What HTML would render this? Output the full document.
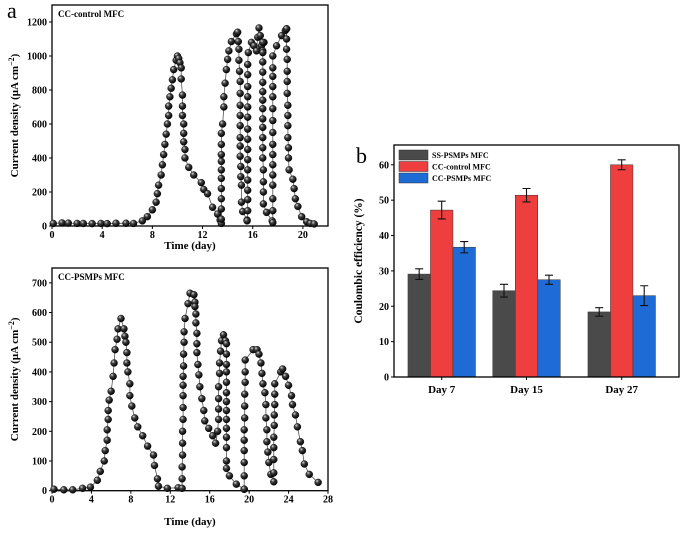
<!DOCTYPE html>
<html><head><meta charset="utf-8"><style>
html,body{margin:0;padding:0;background:#fff;}
svg{display:block;font-family:"Liberation Serif",serif;}
</style></head><body>
<svg id="fig" width="685" height="533" viewBox="0 0 685 533">
<defs>
<radialGradient id="ball" cx="0.35" cy="0.3" r="0.7">
<stop offset="0" stop-color="#ddd"/><stop offset="0.35" stop-color="#444"/><stop offset="1" stop-color="#000"/>
</radialGradient>
</defs>
</svg>
<script>
// ---- Panel a top: CC-control MFC
const topDays=[0.1,0.8,1.3,2,2.5,3.2,3.9,4.4,5.1,5.9,6.5,
7.2,7.6,8.0,8.3,8.4,8.5,8.7,8.8,8.9,9.0,9.1,9.2,9.3,9.3,9.4,9.5,9.6,9.7,9.9,10.0,10.1,10.2,10.3,10.3,10.4,10.4,10.4,10.5,10.5,10.5,10.6,10.6,10.9,11.3,11.9,12.1,12.4,12.8,13.2,13.4,
13.5,13.5,13.5,13.5,13.5,13.5,13.5,13.5,13.5,13.5,13.5,13.6,13.7,13.7,13.8,13.9,14.0,14.1,14.3,14.7,
14.8,14.85,14.9,14.9,14.95,15,15,15,15,15,15,15,15,15.05,15.05,15.1,15.1,15.2,
15.55,15.55,15.6,15.6,15.6,15.6,15.6,15.6,15.6,15.6,15.6,15.6,15.6,15.6,15.6,15.6,15.6,15.65,
15.9,16.1,16.3,16.4,16.5,16.6,16.7,16.8,16.9,
16.8,16.8,16.8,16.8,16.8,16.8,16.8,16.8,16.8,16.8,16.8,16.8,16.8,16.85,16.85,16.85,16.85,17.1,
17.55,17.6,17.6,17.6,17.6,17.6,17.6,17.6,17.6,17.6,17.6,17.6,17.6,17.6,17.6,17.6,17.6,17.9,18.3,18.6,18.7,
18.7,18.7,18.7,18.75,18.75,18.75,18.75,18.8,18.8,18.8,18.8,18.85,18.85,18.9,19.2,19.3,19.4,19.6,19.9,20.3,20.6,20.9];
const topVals=[15,18,17,15,15,14,15,14,16,16,15,
30,55,95,140,190,240,300,360,420,480,540,600,650,705,760,810,860,920,975,1000,985,960,930,865,770,705,650,600,545,495,450,400,345,300,255,215,190,110,70,35,15,
40,100,160,220,280,330,380,420,480,545,600,700,760,840,920,980,1030,1085,1130,1140,
1085,1040,975,910,850,780,710,650,590,520,470,410,350,290,240,140,85,35,
30,90,155,210,270,330,390,450,510,570,640,700,760,820,890,950,1020,1080,
1060,1030,1110,1165,1120,1060,1030,1080,1080,
1020,965,905,845,790,740,690,630,580,520,460,400,330,260,200,130,80,30,
20,90,160,240,300,360,420,480,550,620,690,760,820,880,930,1000,1060,1120,1150,1160,1160,
1100,1040,980,910,850,780,710,650,590,520,460,400,330,275,220,160,115,55,25,15,12,12];
const topXTicks=[0,4,8,12,16,20];
const topYTicks=[0,200,400,600,800,1000,1200];

// ---- Panel a bottom: CC-PSMPs MFC
const botDays=[0.2,1.2,2.1,3.1,3.9,4.6,4.9,5.3,5.4,5.6,5.6,5.7,5.7,5.8,6.0,6.2,6.3,6.4,6.6,6.7,7.0,7.3,7.4,7.5,7.6,7.6,7.7,7.9,7.9,8.1,8.4,8.7,9.2,9.7,10.3,10.4,10.7,10.8,11.7,12.8,13.2,
13.2,13.2,13.25,13.25,13.25,13.3,13.3,13.3,13.3,13.3,13.35,13.35,13.4,13.4,13.5,13.8,14.0,14.4,14.5,14.5,14.6,14.6,14.7,14.7,14.7,14.8,14.9,15.0,15.2,15.4,15.5,15.9,16.3,16.6,16.8,16.9,16.9,16.9,16.9,17.0,17.0,17.1,17.2,17.4,17.6,17.7,
17.7,17.7,17.7,17.7,17.7,17.7,17.7,17.7,17.7,17.7,17.7,17.7,17.7,18.0,18.7,19.5,
19.5,19.5,19.5,19.5,19.5,19.5,19.55,19.55,19.55,19.6,19.6,19.6,20.4,20.8,21.0,21.2,21.3,21.4,21.6,21.7,21.7,21.8,21.8,21.9,22.0,22.2,
22.5,22.5,22.5,22.5,22.5,22.55,22.55,22.6,22.6,22.6,23.2,23.4,23.7,24.0,24.3,24.4,24.7,24.9,25.2,25.4,25.6,26.1,27.0];
const botVals=[5,3,3,8,12,35,65,100,135,170,205,240,270,305,335,385,430,475,510,545,580,545,520,500,465,430,400,360,320,285,245,215,185,150,120,85,40,15,8,10,8,
40,80,120,160,200,240,280,320,355,385,420,460,500,535,580,630,665,660,635,620,595,565,530,495,465,425,390,350,310,270,235,210,185,160,200,240,275,310,350,395,430,470,505,525,505,495,
460,425,400,365,330,300,270,240,210,180,145,100,75,50,22,5,
5,50,95,135,170,205,245,285,325,365,400,440,475,475,460,430,395,360,330,290,245,205,165,130,95,55,30,
60,105,145,180,220,255,290,325,360,400,410,385,355,320,290,255,215,165,135,90,55,28,5];
const botXTicks=[0,4,8,12,16,20,24,28];
const botYTicks=[0,100,200,300,400,500,600,700];

// ---- Panel b: Coulombic efficiency
const barCats=["Day 7","Day 15","Day 27"];
const seriesNames=["SS-PSMPs MFC","CC-control MFC","CC-PSMPs MFC"];
const ssVals=[29.1,24.4,18.4];
const ssErr=[1.5,1.8,1.2];
const ccVals=[47.2,51.4,60.0];
const ccErr=[2.5,1.9,1.4];
const psVals=[36.7,27.5,23.0];
const psErr=[1.6,1.3,2.8];
const barYTicks=[0,10,20,30,40,50,60];

const NS="http://www.w3.org/2000/svg";
const svg=document.getElementById('fig');
function mk(tag,attrs,parent){const e=document.createElementNS(NS,tag);for(const k in attrs)e.setAttribute(k,attrs[k]);(parent||svg).appendChild(e);return e;}
function txt(s,attrs,parent){const e=mk('text',attrs,parent);e.textContent=s;return e;}

function linePanel(name,days,vals,xmax,ymax,xt,yt,box,label,xtitleY){
  const g=mk('g',{});
  
  
  const X=d=>box.l+d/xmax*(box.r-box.l);
  const Y=v=>box.b-v/ymax*(box.b-box.t);
  const fr=mk('rect',{x:box.l,y:box.t,width:box.r-box.l,height:box.b-box.t,fill:'none',stroke:'#000','stroke-width':1.3},g);
  
  
  xt.forEach(t=>{mk('line',{x1:X(t),x2:X(t),y1:box.b,y2:box.b+3,stroke:'#000'},g);
    const l=txt(t,{x:X(t),y:box.b+12,'text-anchor':'middle','font-size':10,'font-weight':'bold'},g);
    
    });
  yt.forEach(t=>{mk('line',{x1:box.l-3,x2:box.l,y1:Y(t),y2:Y(t),stroke:'#000'},g);
    const l=txt(t,{x:box.l-5,y:Y(t)+3.5,'text-anchor':'end','font-size':10,'font-weight':'bold'},g);
    
    });
  const pts=days.map((d,i)=>X(d).toFixed(1)+','+Y(vals[i]).toFixed(1)).join(' ');
  const pl=mk('polyline',{points:pts,fill:'none',stroke:'#555','stroke-width':0.8},g);
  
  
  days.forEach((d,i)=>{const c=mk('circle',{cx:X(d),cy:Y(vals[i]),r:3.5,fill:'url(#ball)',stroke:'#000','stroke-width':0.4},g);
    
    });
  const lb=txt(label,{x:box.l+6,y:box.t+12,'font-size':9,'font-weight':'bold'},g);
  
  
  const xtl=txt('Time (day)',{x:(box.l+box.r)/2,y:xtitleY,'text-anchor':'middle','font-size':11,'font-weight':'bold'},g);
  
  
  const cy=(box.t+box.b)/2;
  const yl=mk('text',{x:0,y:0,transform:`translate(18,${cy}) rotate(-90)`,'text-anchor':'middle','font-size':11,'font-weight':'bold'},g);
  yl.innerHTML='Current density (μA cm<tspan dy="-4" font-size="8">−2</tspan><tspan dy="4">)</tspan>';
  
  
}
linePanel('chart-cc-control',topDays,topVals,22,1300,topXTicks,topYTicks,{l:52,r:328,t:5,b:226},'CC-control MFC',249);
linePanel('chart-cc-psmps',botDays,botVals,28,750,botXTicks,botYTicks,{l:52,r:328,t:268,b:490.7},'CC-PSMPs MFC',525);

const pa=txt('a',{x:7,y:18,'font-size':22},svg);


const pb=txt('b',{x:356,y:163,'font-size':22},svg);



// Bar chart
(function(){
  const box={l:394,r:679,t:145,b:377};const ymax=65.6;
  const g=mk('g',{});
  
  
  const Y=v=>box.b-v/ymax*(box.b-box.t);
  const centers=[441.7,526.5,621.7];
  const bw=22.5;
  const colors=['#4a4a4a','#ee3e3e','#1f6bd6'];
  const vals=[ssVals,ccVals,psVals],errs=[ssErr,ccErr,psErr];
  barCats.forEach((c,i)=>{
    vals.forEach((sv,s)=>{
      const x=centers[i]+(s-1)*bw-bw/2;
      const r=mk('rect',{x:x,y:Y(sv[i]),width:bw,height:box.b-Y(sv[i]),fill:colors[s],stroke:'#333','stroke-width':0.5},g);
      
      
      const cx=x+bw/2,hi=Y(sv[i]+errs[s][i]),lo=Y(sv[i]-errs[s][i]);
      const e=mk('path',{d:`M${cx-4},${hi}H${cx+4}M${cx},${hi}V${lo}M${cx-4},${lo}H${cx+4}`,stroke:'#111','stroke-width':1.1,fill:'none'},g);
      
      
    });
    mk('line',{x1:centers[i],x2:centers[i],y1:box.b,y2:box.b+3,stroke:'#000'},g);
    const l=txt(c,{x:centers[i],y:box.b+16,'text-anchor':'middle','font-size':11,'font-weight':'bold'},g);
    
    
  });
  const fr=mk('rect',{x:box.l,y:box.t,width:box.r-box.l,height:box.b-box.t,fill:'none',stroke:'#000','stroke-width':1.3},g);
  
  
  barYTicks.forEach(t=>{mk('line',{x1:box.l-3,x2:box.l,y1:Y(t),y2:Y(t),stroke:'#000'},g);
    const l=txt(t,{x:box.l-5,y:Y(t)+3.5,'text-anchor':'end','font-size':10,'font-weight':'bold'},g);
    
    });
  const yl=txt('Coulombic efficiency (%)',{transform:`translate(362,${(box.t+box.b)/2}) rotate(-90)`,'text-anchor':'middle','font-size':11.5,'font-weight':'bold'},g);
  
  
  seriesNames.forEach((n,s)=>{
    const y=150+s*11.5;
    const le=mk('g',{},g);
    
    
    mk('rect',{x:399,y:y,width:29,height:10,fill:colors[s],stroke:'#333','stroke-width':0.5},le);
    txt(n,{x:432,y:y+8,'font-size':8,'font-weight':'bold'},le);
  });
})();
</script>
</body></html>
